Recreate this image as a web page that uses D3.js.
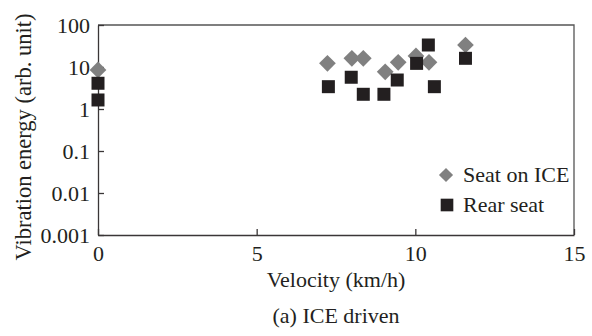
<!DOCTYPE html>
<html>
<head>
<meta charset="utf-8">
<script src="https://cdn.jsdelivr.net/npm/d3@7"></script>
<style>
  html, body { margin: 0; padding: 0; background: #fff; }
  svg { display: block; }
  svg text { fill: #231f20; }
</style>
</head>
<body>
<svg id="chart" width="592" height="336"></svg>
<script>
// ---- Data ----
const seatOnIceX = [0, 7.23, 8.0, 8.36, 9.05, 9.46, 10.02, 10.43, 11.58];
const seatOnIceY = [8.5, 12.2, 16.1, 16.1, 7.7, 12.9, 18.3, 12.9, 33.4];
const rearSeatX  = [0, 0, 7.26, 7.98, 8.36, 9.01, 9.43, 10.04, 10.41, 10.6, 11.58];
const rearSeatY  = [4.1, 1.64, 3.4, 5.7, 2.24, 2.24, 4.9, 12.2, 33.4, 3.4, 16.1];
const xTicks = [0, 5, 10, 15];
const yTicks = [0.001, 0.01, 0.1, 1, 10, 100];
const yTickLabels = ["0.001", "0.01", "0.1", "1", "10", "100"];
const seriesNames = ["Seat on ICE", "Rear seat"];
const xTitle = "Velocity (km/h)";
const yTitle = "Vibration energy (arb. unit)";
const caption = "(a) ICE driven";

// ---- Layout ----
const svg = d3.select("#chart");
const L = 98, R = 574, T = 25, B = 235;
const x = d3.scaleLinear().domain([0, 15]).range([L, R]);
const y = d3.scaleLog().domain([0.001, 100]).range([B, T]);
const axisColor = "#3a3637";
const fs = 22;
const ff = "'Liberation Serif', 'Times New Roman', serif";

// plot frame (top & right)
svg.append("path")
  .attr("d", `M${L},${T}H${R}V${B}`)
  .attr("fill", "none").attr("stroke", "#555").attr("stroke-width", 1.3);

// y axis
const yAxis = svg.append("g").attr("transform", `translate(${L},0)`)
  .call(d3.axisLeft(y).tickValues(yTicks)
    .tickFormat((d, i) => yTickLabels[i])
    .tickSizeInner(-6).tickSizeOuter(0).tickPadding(8));
yAxis.attr("font-family", ff);
yAxis.selectAll("text").attr("font-size", fs).attr("fill", "#231f20");
yAxis.selectAll("line,path").attr("stroke", axisColor).attr("stroke-width", 1.3);

// x axis
const xAxis = svg.append("g").attr("transform", `translate(0,${B})`)
  .call(d3.axisBottom(x).tickValues(xTicks).tickFormat(d3.format("d"))
    .tickSizeInner(-6).tickSizeOuter(0).tickPadding(10));
xAxis.attr("font-family", ff);
xAxis.selectAll("text").attr("font-size", fs).attr("fill", "#231f20");
xAxis.selectAll("line,path").attr("stroke", axisColor).attr("stroke-width", 1.3);

// markers
const diamondSym = d3.symbol().type(d3.symbolSquare).size(140)();
const squareSym = d3.symbol().type(d3.symbolSquare).size(169)();
const diamondColor = "#808080";
const squareColor = "#231f20";

svg.append("g").selectAll("path")
  .data(seatOnIceX.map((v, i) => [v, seatOnIceY[i]]))
  .join("path")
  .attr("d", diamondSym)
  .attr("transform", d => `translate(${x(d[0])},${y(d[1])}) rotate(45)`)
  .attr("fill", diamondColor);

svg.append("g").selectAll("path")
  .data(rearSeatX.map((v, i) => [v, rearSeatY[i]]))
  .join("path")
  .attr("d", squareSym)
  .attr("transform", d => `translate(${x(d[0])},${y(d[1])})`)
  .attr("fill", squareColor);

// legend
const lg = svg.append("g").attr("font-family", ff);
lg.append("path").attr("d", d3.symbol().type(d3.symbolSquare).size(100)())
  .attr("transform", "translate(446,175) rotate(45)").attr("fill", diamondColor);
lg.append("text").attr("x", 463).attr("y", 182).attr("font-size", fs).text(seriesNames[0]);
lg.append("path").attr("d", d3.symbol().type(d3.symbolSquare).size(160)())
  .attr("transform", "translate(447,205)").attr("fill", squareColor);
lg.append("text").attr("x", 463).attr("y", 212).attr("font-size", fs).text(seriesNames[1]);

// titles
const tg = svg.append("g").attr("font-family", ff);
tg.append("text").attr("x", (L + R) / 2).attr("y", 287)
  .attr("text-anchor", "middle").attr("font-size", fs).text(xTitle);
tg.append("text").attr("transform", "translate(31,137) rotate(-90)")
  .attr("text-anchor", "middle").attr("font-size", 22.5).text(yTitle);
tg.append("text").attr("x", (L + R) / 2).attr("y", 323)
  .attr("text-anchor", "middle").attr("font-size", fs).text(caption);
</script>
</body>
</html>
